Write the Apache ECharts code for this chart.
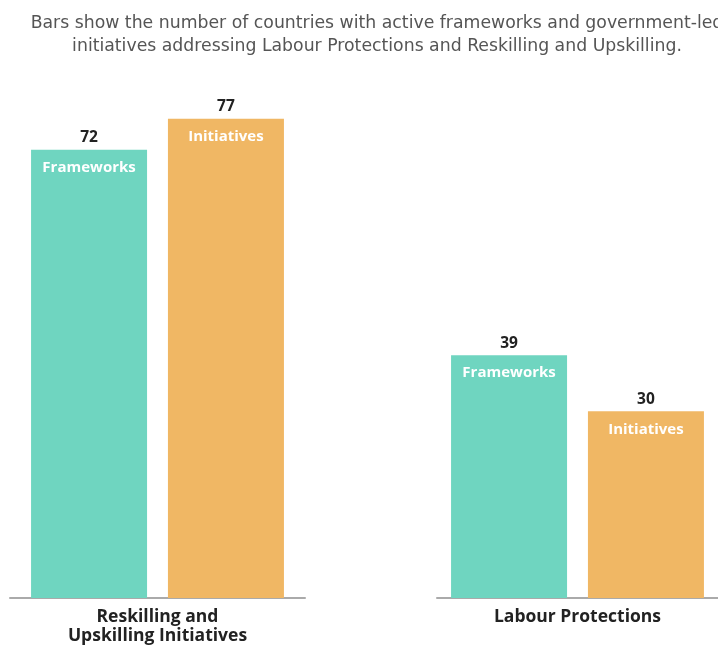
<!DOCTYPE html>
<html>
<head>
<meta charset="utf-8">
<script src="https://cdn.jsdelivr.net/npm/echarts@6/dist/echarts.min.js"></script>
<style>
  html, body { margin: 0; padding: 0; background: #fff; }
  #chart { width: 718px; height: 646px; }
</style>
</head>
<body>
<div id="chart"></div>
<script>
// Policy areas and counts of countries
const categories = ['Reskilling and\nUpskilling Initiatives', 'Labour Protections'];
const frameworks = [72, 39];
const initiatives = [77, 30];
const seriesNames = ['Frameworks', 'Initiatives'];
const subtitle = 'Bars show the number of countries with active frameworks and government-led\ninitiatives addressing Labour Protections and Reskilling and Upskilling.';

const colors = { Frameworks: '#6fd5c0', Initiatives: '#f0b764' };
const yMax = 80;

const grids = [
  { left: 10, width: 295, top: 100, bottom: 48 },
  { left: 437, right: 0, top: 100, bottom: 48 }
];

const xAxes = categories.map((c, i) => ({
  type: 'category',
  gridIndex: i,
  data: [c],
  axisLine: { lineStyle: { color: '#aaaaaa', width: 2 } },
  axisTick: { show: false },
  axisLabel: {
    margin: 10,
    fontFamily: 'Open Sans',
    fontWeight: 'bold',
    fontSize: 17.5,
    lineHeight: 19,
    color: '#222222'
  }
}));

const yAxes = categories.map((c, i) => ({
  type: 'value',
  gridIndex: i,
  min: 0,
  max: yMax,
  show: false,
  splitLine: { show: false }
}));

function makeSeries(name, values, gi) {
  return {
    name: name,
    type: 'bar',
    xAxisIndex: gi,
    yAxisIndex: gi,
    data: [values[gi]],
    barWidth: 116,
    barGap: '18%',
    itemStyle: { color: colors[name] },
    label: {
      show: true,
      position: 'insideTop',
      distance: 0,
      offset: [0, -27],
      formatter: (p) => '{v|' + p.value + '}\n{n|' + name + '}',
      rich: {
        v: { fontFamily: 'Open Sans', fontWeight: 'bold', fontSize: 15.5, color: '#222222', lineHeight: 30, align: 'center' },
        n: { fontFamily: 'Open Sans', fontWeight: 'bold', fontSize: 15, color: '#ffffff', lineHeight: 30, align: 'center' }
      }
    }
  };
}

const series = [];
categories.forEach((c, gi) => {
  series.push(makeSeries(seriesNames[0], frameworks, gi));
  series.push(makeSeries(seriesNames[1], initiatives, gi));
});

const chart = echarts.init(document.getElementById('chart'), null, { renderer: 'canvas' });
chart.setOption({
  animation: false,
  backgroundColor: '#ffffff',
  title: {
    text: subtitle,
    left: 372,
    textAlign: 'center',
    top: 7,
    textStyle: {
      fontFamily: 'DejaVu Sans',
      fontWeight: 'normal',
      fontSize: 17.3,
      lineHeight: 23,
      color: '#555555'
    }
  },
  grid: grids,
  xAxis: xAxes,
  yAxis: yAxes,
  series: series
});
</script>
</body>
</html>
